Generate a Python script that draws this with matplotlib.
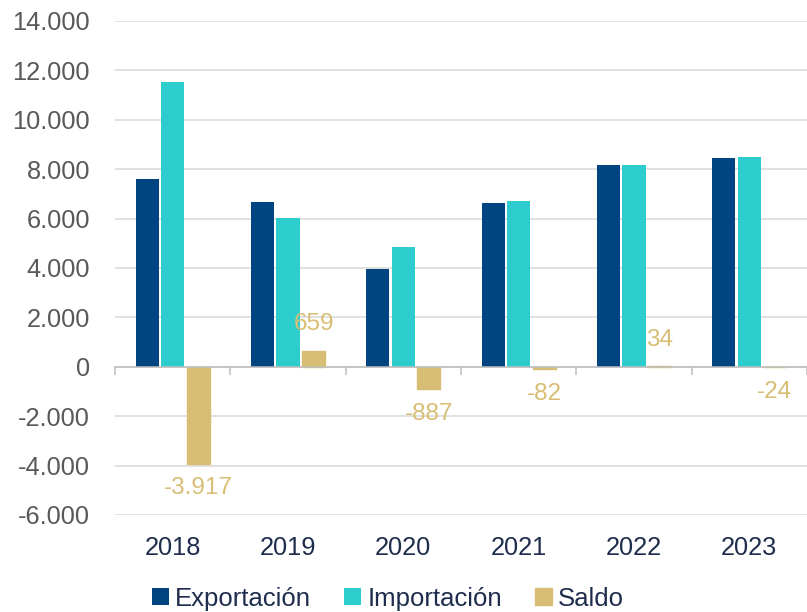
import numpy as np
import matplotlib
matplotlib.use("Agg")
import matplotlib.pyplot as plt
from matplotlib.ticker import FuncFormatter

# Data
years = ["2018", "2019", "2020", "2021", "2022", "2023"]
exportacion = [7620, 6690, 3960, 6650, 8190, 8460]
importacion = [11537, 6031, 4847, 6732, 8156, 8484]
saldo = [-3917, 659, -887, -82, 34, -24]

colors = {
    "export": "#004481",
    "import": "#2DCCCD",
    "saldo": "#D8BE75",
    "grid": "#D9D9D9",
    "axis": "#BFBFBF",
    "ytext": "#595959",
    "xtext": "#1F2D4D",
}

plt.rcParams['font.family'] = ['Liberation Sans', 'DejaVu Sans']
plt.rcParams['font.size'] = 18.3


def thousands(v, _pos):
    return f"{int(round(v)):,}".replace(",", ".")


fig = plt.figure(figsize=(8.07, 6.12), dpi=100)
ax = fig.add_axes([0.1425, 0.1585, 0.8575, 0.8072])

x = np.arange(len(years))
w = 0.2
off = 0.222

ax.bar(x - off, exportacion, w, color=colors["export"], label="Exportación", zorder=2)
ax.bar(x, importacion, w, color=colors["import"], label="Importación", zorder=2)
bars_saldo = ax.bar(x + off, saldo, w, color=colors["saldo"], edgecolor=colors["saldo"],
                    linewidth=1.0, label="Saldo", zorder=2)

# Annotate Saldo values
for rect, val in zip(bars_saldo, saldo):
    xc = rect.get_x() + rect.get_width() / 2
    if val >= 0:
        ax.annotate(thousands(val, None), (xc, val), textcoords="offset points",
                    xytext=(0, 11), ha="center", va="bottom", color=colors["saldo"],
                    fontsize=17.5)
    else:
        ax.annotate(thousands(val, None), (xc, val), textcoords="offset points",
                    xytext=(0, -10), ha="center", va="top", color=colors["saldo"],
                    fontsize=17.5)

ax.set_ylim(-6000, 14000)
ax.set_yticks(np.arange(-6000, 14001, 2000))
ax.yaxis.set_major_formatter(FuncFormatter(thousands))
ax.tick_params(axis="y", length=0, pad=18, labelcolor=colors["ytext"])
ax.yaxis.grid(True, color=colors["grid"], linewidth=1.1)
ax.set_axisbelow(True)

for side in ["top", "right", "left"]:
    ax.spines[side].set_visible(False)
ax.spines["bottom"].set_position(("data", 0))
ax.spines["bottom"].set_color(colors["axis"])
ax.spines["bottom"].set_linewidth(1.1)

# category separator ticks on the zero line
ax.set_xlim(-0.5, len(years) - 0.5)
ax.set_xticks(np.arange(-0.5, len(years), 1))
ax.tick_params(axis="x", length=6, width=1.1, color=colors["axis"], labelbottom=False)

# year labels at the bottom of the plot
sec = ax.secondary_xaxis(0.0)
sec.set_xticks(x)
sec.set_xticklabels(years)
sec.tick_params(length=0, pad=15, labelcolor=colors["xtext"])
sec.spines["bottom"].set_visible(False)

leg = fig.legend(loc="center", bbox_to_anchor=(0.481, 0.022), ncol=3, frameon=False,
                 handlelength=0.64, handleheight=0.64, handletextpad=0.25,
                 columnspacing=1.3, borderpad=0, fontsize=18.5)
for t in leg.get_texts():
    t.set_color(colors["xtext"])

fig.savefig("out.png", dpi=100)
